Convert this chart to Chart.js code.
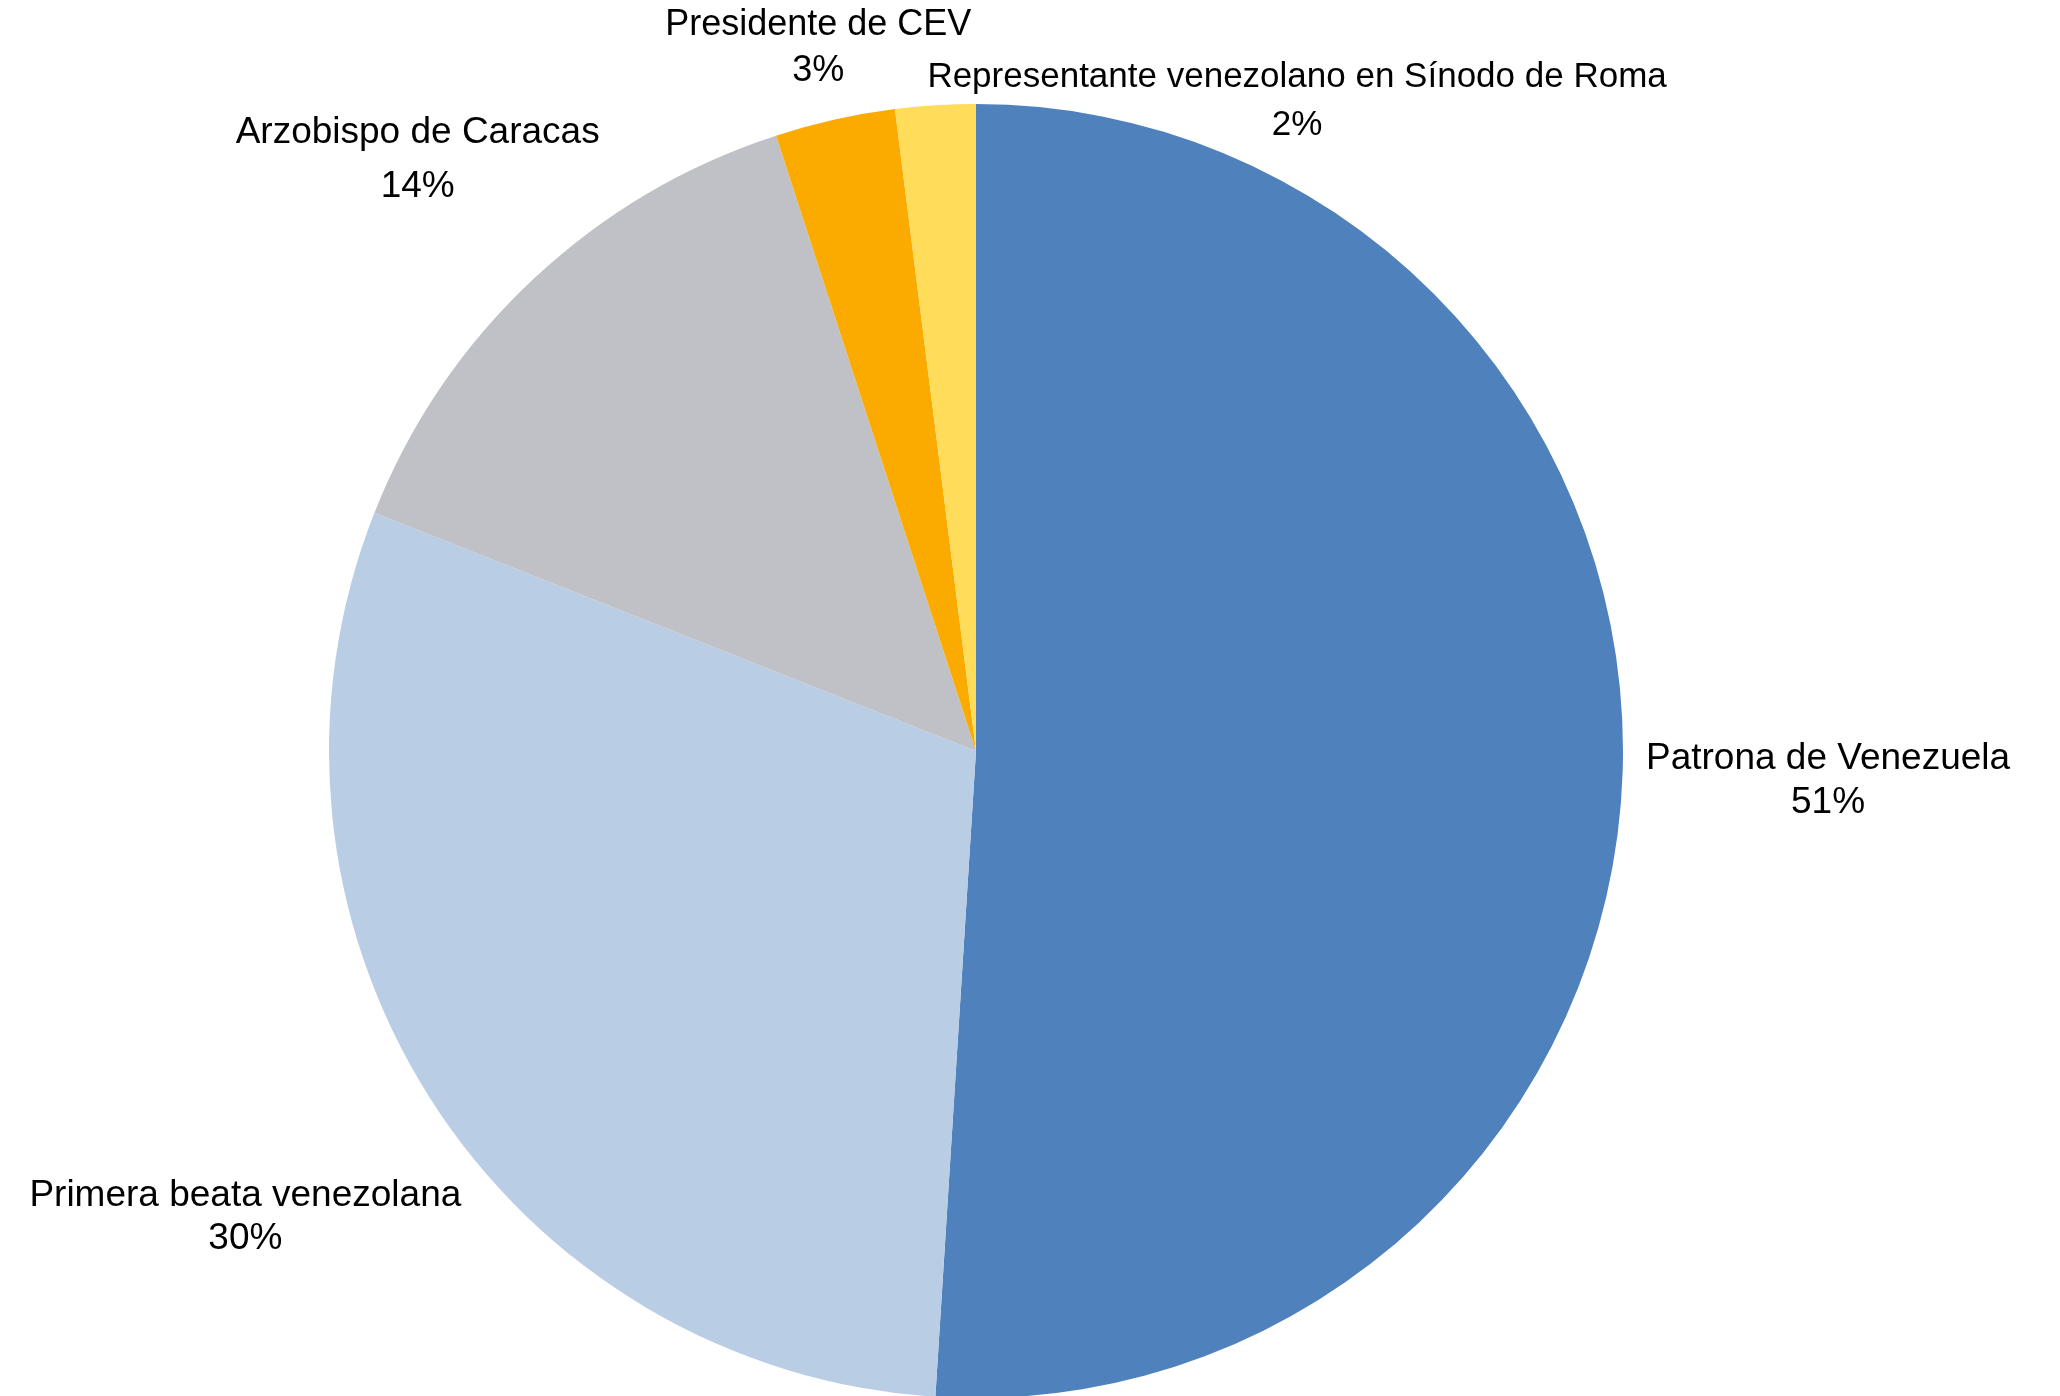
<!DOCTYPE html>
<html>
<head>
<meta charset="utf-8">
<script src="https://cdn.jsdelivr.net/npm/chart.js@4"></script>
<style>
  html, body { margin: 0; padding: 0; background: #fff; overflow: hidden; }
  #wrap { width: 2060px; height: 1396px; }
</style>
</head>
<body>
<div id="wrap"><canvas id="pie" width="2060" height="1396"></canvas></div>
<script>
const categories = [
  'Patrona de Venezuela',
  'Primera beata venezolana',
  'Arzobispo de Caracas',
  'Presidente de CEV',
  'Representante venezolano en Sínodo de Roma'
];
const shares = [51, 30, 14, 3, 2];
const sliceColors = ['#4F81BD', '#B9CDE5', '#C0C1C6', '#FBAB00', '#FFDC5A'];

// labels sit outside the pie, the box nearest the centre kept at radius + gap
const outerLabels = {
  id: 'outerLabels',
  afterDatasetsDraw(chart, args, opts) {
    const ctx = chart.ctx;
    const meta = chart.getDatasetMeta(0);
    const values = chart.data.datasets[0].data;
    const total = values.reduce((a, b) => a + b, 0);
    ctx.save();
    ctx.fillStyle = '#000';
    ctx.textAlign = 'center';
    ctx.textBaseline = 'alphabetic';
    meta.data.forEach((arc, i) => {
      const { x, y, startAngle, endAngle, outerRadius } =
        arc.getProps(['x', 'y', 'startAngle', 'endAngle', 'outerRadius'], true);
      const size = opts.sizes[i];
      ctx.font = size + 'px "Liberation Sans", Arial, sans-serif';
      const lines = [chart.data.labels[i], Math.round(values[i] / total * 100) + '%'];
      const w = Math.max(...lines.map(l => ctx.measureText(l).width));
      const capH = size * 0.716;
      const lh = opts.lineHeights[i];
      const h = capH + lh;
      const mid = (startAngle + endAngle) / 2 + (opts.angleShift[i] || 0) * Math.PI / 180;
      const ux = Math.cos(mid), uy = Math.sin(mid);
      const target = outerRadius + opts.gap + (opts.extra[i] || 0);
      const near = t => {
        const dx = Math.max(Math.abs(ux * t) - w / 2, 0);
        const dy = Math.max(Math.abs(uy * t) - h / 2, 0);
        return Math.hypot(dx, dy);
      };
      let lo = 0, hi = outerRadius * 3;
      for (let k = 0; k < 60; k++) {
        const m = (lo + hi) / 2;
        if (near(m) < target) lo = m; else hi = m;
      }
      const cx = x + ux * lo, cy = y + uy * lo;
      const base = cy - h / 2 + capH;
      ctx.fillText(lines[0], cx, base);
      ctx.fillText(lines[1], cx, base + lh);
    });
    ctx.restore();
  }
};

new Chart(document.getElementById('pie').getContext('2d'), {
  type: 'pie',
  data: {
    labels: categories,
    datasets: [{
      data: shares,
      backgroundColor: sliceColors,
      borderWidth: 0,
      radius: 647
    }]
  },
  options: {
    responsive: false,
    animation: false,
    layout: { padding: { left: 0, right: 108, top: 106, bottom: 0 } },
    plugins: {
      legend: { display: false },
      tooltip: { enabled: false },
      outerLabels: {
        gap: 23,
        sizes: [37, 37, 37, 36, 35],
        lineHeights: [44, 43, 54, 46, 48],
        angleShift: [0, 0, 0, 0, 29.8],
        extra: [0, 0, 0, 0, -54]
      }
    }
  },
  plugins: [outerLabels]
});
</script>
</body>
</html>
